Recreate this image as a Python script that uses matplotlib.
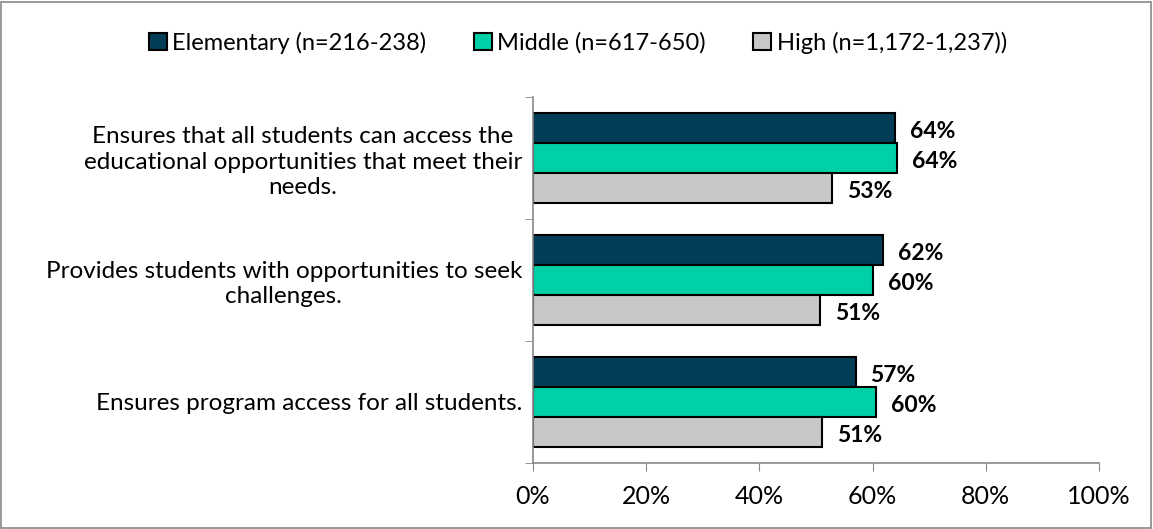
import matplotlib.pyplot as plt
import numpy as np
from matplotlib.patches import Rectangle

plt.rcParams["font.family"] = ["Lato", "DejaVu Sans"]

# survey items, top to bottom
items = [
    "Ensures that all students can access the\neducational opportunities that meet their\nneeds.",
    "Provides students with opportunities to seek\nchallenges.",
    "Ensures program access for all students.",
]
series_names = ["Elementary (n=216-238)", "Middle (n=617-650)", "High (n=1,172-1,237))"]
elementary = [64.0, 61.8, 57.0]
middle = [64.3, 60.1, 60.6]
high = [52.8, 50.7, 51.1]
value_labels = [["64%", "62%", "57%"], ["64%", "60%", "60%"], ["53%", "51%", "51%"]]
colors = ["#023e58", "#00d0a8", "#c8c8c8"]

fig = plt.figure(figsize=(11.53, 5.29), dpi=100)
ax = fig.add_axes([533 / 1153, 1 - 463 / 529, 566 / 1153, 366 / 529])

y = np.arange(len(items))
h = 0.245
for i, (vals, name) in enumerate(zip([elementary, middle, high], series_names)):
    pos = y + (i - 1) * h
    ax.barh(pos, vals, height=h, color=colors[i], edgecolor="black",
            linewidth=1.5, label=name)
    for p, v, t in zip(pos, vals, value_labels[i]):
        ax.text(v + 2.6, p + 0.03, t, ha="left", va="center",
                fontsize=16.5, fontweight="bold")

ax.set_xlim(0, 100)
ax.set_ylim(len(items) - 0.5, -0.5)
ax.set_xticks(range(0, 101, 20))
ax.set_xticklabels([f"{v}%" for v in range(0, 101, 20)], fontsize=18)
ax.set_yticks(y)
ax.set_yticklabels(items, fontsize=17.5, ha="right", multialignment="center",
                   linespacing=1.25)
ax.set_yticks(np.arange(-0.5, len(items)), minor=True)
ax.tick_params(axis="y", which="major", length=0, pad=8)
ax.tick_params(axis="y", which="minor", length=6, direction="out", color="#888888")
ax.tick_params(axis="x", length=6, direction="out", color="#888888", pad=10)
for s in ["top", "right"]:
    ax.spines[s].set_visible(False)
for s in ["left", "bottom"]:
    ax.spines[s].set_color("#888888")
    ax.spines[s].set_linewidth(1.2)

ax.legend(loc="center", bbox_to_anchor=(578 / 1153, 1 - 43 / 529),
          bbox_transform=fig.transFigure, ncol=3, frameon=False,
          fontsize=17, handlelength=0.75, handleheight=0.75,
          handletextpad=0.25, columnspacing=2.0)

# thin border around the whole chart
fig.patches.append(Rectangle((0.001, 0.002), 0.997, 0.995, transform=fig.transFigure,
                             fill=False, edgecolor="#888888", linewidth=1.2))

fig.savefig("out.png", dpi=100)
